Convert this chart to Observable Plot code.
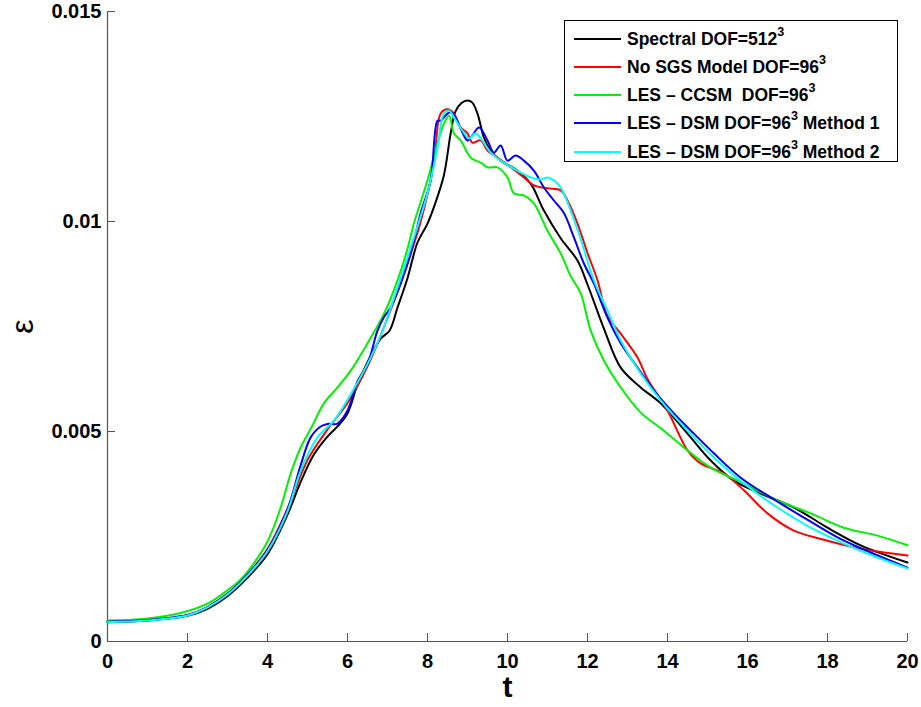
<!DOCTYPE html>
<html><head><meta charset="utf-8">
<script src="https://cdn.jsdelivr.net/npm/d3@7"></script>
<script src="https://cdn.jsdelivr.net/npm/@observablehq/plot@0.6"></script>
<style>
body{margin:0;background:#fff;font-family:"Liberation Sans",Arial,sans-serif;}
#wrap{position:relative;width:921px;height:707px;}
#legend{position:absolute;left:564px;top:20px;width:332px;height:140px;border:1.5px solid #000;background:#fff;}
.row{position:absolute;left:0;height:28px;display:flex;align-items:center;white-space:pre;font-weight:bold;font-size:17.5px;color:#000;}
.sw{display:inline-block;width:47px;height:2px;margin-left:9px;margin-right:6px;}
.sup{font-size:0.72em;position:relative;top:-0.55em;}
</style>
</head><body><div id="wrap"></div>
<script>
// ---- data ----
const seriesNames = ["Spectral DOF=512", "No SGS Model DOF=96", "LES \u2013 CCSM  DOF=96", "LES \u2013 DSM DOF=96", "LES \u2013 DSM DOF=96"];
const seriesSuffix = ["", "", "", " Method 1", " Method 2"];
const seriesKeys = ["spectral", "nosgs", "ccsm", "dsm1", "dsm2"];
const seriesColors = ["#000000", "#ff0000", "#00f000", "#0000ff", "#00ffff"];

const tSpectral = [0,1,2,2.5,3,3.5,4,4.5,4.83,5.16,5.5,5.75,6,6.25,6.5,6.83,7.05,7.25,7.5,7.75,8.0,8.2,8.41,8.58,8.7,8.85,9.0,9.12,9.25,9.41,9.58,9.83,10.25,10.58,10.91,11.33,11.75,12.0,12.41,12.83,13.33,13.83,14.5,15.08,15.66,16.33,17.16,18,18.83,20];
const epsSpectral = [0.00046,0.0005,0.00061,0.00078,0.00108,0.00152,0.00208,0.00302,0.0038,0.00445,0.00488,0.00512,0.00543,0.00612,0.00665,0.00721,0.0074,0.00795,0.00865,0.0095,0.00995,0.01045,0.0111,0.0121,0.01262,0.01282,0.01288,0.01283,0.01257,0.012,0.01169,0.01145,0.01121,0.0109,0.01026,0.0096,0.00907,0.0085,0.00745,0.00652,0.00605,0.00567,0.00495,0.00431,0.00383,0.00352,0.00319,0.00271,0.00229,0.00188];

const tNoSGS = [0,1,2,2.5,3,3.5,4,4.5,5,5.5,6,6.5,7,7.5,7.83,8.16,8.33,8.5,8.66,8.83,9.0,9.12,9.33,9.5,9.75,10.08,10.41,10.66,11.0,11.33,11.5,11.75,12.0,12.25,12.5,12.83,13.25,13.5,14.0,14.5,14.83,15.41,15.91,16.5,17.16,18,18.83,20];
const epsNoSGS = [0.00047,0.00051,0.00063,0.00082,0.00114,0.0016,0.0022,0.00316,0.00432,0.00505,0.00568,0.00655,0.0077,0.009,0.01,0.01138,0.01257,0.01267,0.01257,0.01224,0.0121,0.01188,0.01193,0.01169,0.01152,0.01129,0.01105,0.01086,0.01079,0.01074,0.0105,0.00995,0.00925,0.0086,0.00775,0.00733,0.00676,0.00625,0.0055,0.00455,0.00424,0.004,0.0036,0.00305,0.00264,0.0024,0.00221,0.00205];

const tCCSM = [0,1,1.83,2.5,3,3.33,3.58,4,4.33,4.58,4.83,5.1,5.41,5.75,6.08,6.5,6.91,7.25,7.5,7.66,8.0,8.25,8.41,8.54,8.66,8.83,9.08,9.33,9.5,9.75,10.0,10.16,10.41,10.66,11.0,11.33,11.58,11.83,12.08,12.41,12.83,13.33,13.91,14.5,15.08,15.91,16.75,17.58,18.41,19.25,20];
const epsCCSM = [0.0005,0.00055,0.00068,0.0009,0.00122,0.00148,0.00176,0.00238,0.00319,0.004,0.00462,0.0051,0.00567,0.00605,0.00645,0.0071,0.0078,0.0086,0.00935,0.00995,0.01098,0.01186,0.01233,0.01252,0.0121,0.01193,0.01152,0.0114,0.01129,0.01129,0.01105,0.01067,0.01062,0.01043,0.00978,0.00924,0.0087,0.00829,0.0074,0.00669,0.00605,0.00545,0.00502,0.00455,0.00414,0.00376,0.00336,0.00305,0.00271,0.00252,0.00229];

const tDSM1 = [0,1,2,2.5,3,3.5,4,4.5,4.83,5.08,5.33,5.5,5.75,6.0,6.25,6.5,6.75,6.91,7.08,7.33,7.58,7.83,8.08,8.25,8.33,8.5,8.58,8.7,8.83,9.0,9.12,9.29,9.5,9.66,9.83,10.0,10.2,10.41,10.66,10.91,11.16,11.41,11.66,11.91,12.16,12.5,12.83,13.25,13.66,14.16,14.66,15.16,15.83,16.58,17.41,18.25,19.08,20];
const epsDSM1 = [0.00047,0.00051,0.00063,0.00082,0.00113,0.00159,0.00218,0.00315,0.0042,0.00486,0.00512,0.00518,0.00519,0.0055,0.0062,0.0066,0.0074,0.00772,0.00795,0.00852,0.00924,0.0102,0.01098,0.0124,0.0124,0.01257,0.0126,0.01248,0.01221,0.01193,0.01205,0.01224,0.01193,0.01164,0.01181,0.01145,0.01157,0.01145,0.01121,0.01081,0.0105,0.0102,0.00962,0.009,0.00852,0.00771,0.0071,0.00652,0.00598,0.00543,0.00495,0.00448,0.0039,0.00343,0.00295,0.00248,0.00212,0.00176];

const tDSM2 = [0,1,2,2.5,3,3.5,4,4.5,4.83,5.25,5.66,6.16,6.58,6.91,7.25,7.58,8.0,8.25,8.41,8.54,8.66,8.87,9.04,9.2,9.37,9.58,9.91,10.25,10.58,10.83,11.0,11.16,11.33,11.58,11.83,12.16,12.5,12.83,13.33,13.83,14.5,15.16,15.91,16.75,17.58,18.41,19.25,20];
const epsDSM2 = [0.00046,0.0005,0.00062,0.00081,0.00112,0.00157,0.00215,0.0031,0.00407,0.00486,0.00526,0.00602,0.00676,0.00748,0.00843,0.00938,0.01067,0.01176,0.01257,0.01264,0.01248,0.01217,0.01198,0.0121,0.01193,0.01164,0.0114,0.01121,0.01105,0.011,0.01105,0.01098,0.01081,0.01026,0.00958,0.0086,0.00788,0.00717,0.00638,0.00574,0.00502,0.00438,0.00376,0.00319,0.00271,0.00233,0.002,0.00174];

const xTicks = [0,2,4,6,8,10,12,14,16,18,20];
const xTickLabels = ["0","2","4","6","8","10","12","14","16","18","20"];
const yTicks = [0,0.005,0.01,0.015];
const yTickLabels = ["0","0.005","0.01","0.015"];

// ---- build table ----
const tArrs = [tSpectral, tNoSGS, tCCSM, tDSM1, tDSM2];
const eArrs = [epsSpectral, epsNoSGS, epsCCSM, epsDSM1, epsDSM2];
const rows = [];
tArrs.forEach((ts, k) => ts.forEach((t, i) => rows.push({series: seriesKeys[k], t, eps: eArrs[k][i]})));

const font = "'Liberation Sans', Arial, sans-serif";
const axisColor = "#555";

const chart = Plot.plot({
  width: 921, height: 707,
  marginLeft: 107, marginRight: 14, marginTop: 11, marginBottom: 66,
  x: {domain: [0, 20]},
  y: {domain: [0, 0.015]},
  color: {domain: seriesKeys, range: seriesColors},
  style: {fontFamily: font, background: "white", color: "black"},
  marks: [
    Plot.ruleX([0], {stroke: axisColor, strokeWidth: 1.2}),
    Plot.ruleY([0], {stroke: axisColor, strokeWidth: 1.2}),
    Plot.tickX(xTicks, {x: d => d, insetTop: 622, stroke: axisColor}),
    Plot.tickY(yTicks, {y: d => d, insetRight: 792, stroke: axisColor}),
    Plot.line(rows, {x: "t", y: "eps", z: "series", stroke: "series", strokeWidth: 2, curve: "catmull-rom"}),
    Plot.axisX(xTicks, {tickSize: 0, tickPadding: 12, fontSize: 20, fontWeight: "bold", label: null,
      tickFormat: d => xTickLabels[xTicks.indexOf(d)]}),
    Plot.axisY(yTicks, {tickSize: 0, tickPadding: 6, fontSize: 20, fontWeight: "bold", label: null,
      tickFormat: d => yTickLabels[yTicks.indexOf(d)]}),
    Plot.text(["t"], {text: d => d, frameAnchor: "bottom", lineAnchor: "middle", dy: 46, fontSize: 30, fontWeight: "bold"}),
    Plot.text(["\u03b5"], {text: d => d, frameAnchor: "left", textAnchor: "middle", lineAnchor: "middle", dx: -85, rotate: -90, fontSize: 32})
  ]
});
const wrap = document.getElementById("wrap");
wrap.appendChild(chart);

// ---- legend (inside plot area, top right) ----
const legend = document.createElement("div");
legend.id = "legend";
const rowCenters = [18, 46, 74, 102, 131];
seriesKeys.forEach((k, i) => {
  const r = document.createElement("div");
  r.className = "row";
  r.style.top = (rowCenters[i] - 14) + "px";
  const sw = document.createElement("span");
  sw.className = "sw";
  sw.style.background = seriesColors[i];
  r.appendChild(sw);
  r.appendChild(document.createTextNode(seriesNames[i]));
  const sup = document.createElement("span");
  sup.className = "sup";
  sup.textContent = "3";
  r.appendChild(sup);
  if (seriesSuffix[i]) r.appendChild(document.createTextNode(seriesSuffix[i]));
  legend.appendChild(r);
});
wrap.appendChild(legend);
</script>
</body></html>
